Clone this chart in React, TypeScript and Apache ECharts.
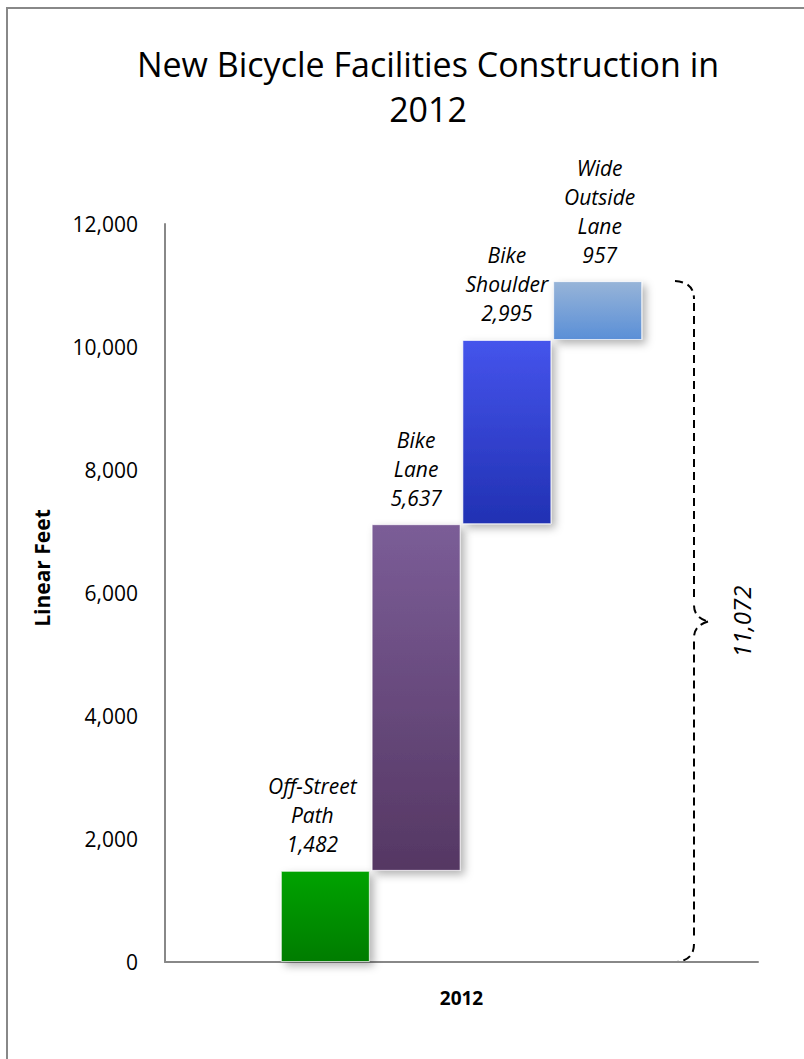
import React, { useEffect, useRef } from "react";
import * as echarts from "echarts";

// Facility types built in 2012 and their lengths (linear feet)
const categories = ["2012"];
const facilityNames = ["Off-Street\nPath", "Bike\nLane", "Bike\nShoulder", "Wide\nOutside\nLane"];
const facilityFeet = [1482, 5637, 2995, 957];
const totalFeet = 11072;
const totalLabel = "11,072";
const yTicks = [0, 2000, 4000, 6000, 8000, 10000, 12000];

// top / bottom gradient stops for each facility bar
const barColors = [
  ["#00a300", "#007c00"],
  ["#7b5d97", "#553763"],
  ["#4554ec", "#2131b3"],
  ["#97b4d8", "#5a8fd7"],
];
// horizontal nudge of each bar's label
const labelShift = [-13, 0, 0, 2];

const fmt = (v: number) => v.toLocaleString("en-US");
const FONT = "'Open Sans', 'Noto Sans', sans-serif";

export default function App() {
  const ref = useRef<HTMLDivElement>(null);

  useEffect(() => {
    if (!ref.current) return;
    const chart = echarts.init(ref.current, undefined, { renderer: "svg" });

    // running base of each floating bar
    const bases: number[] = [];
    let acc = 0;
    facilityFeet.forEach((v) => {
      bases.push(acc);
      acc += v;
    });

    const series: any[] = [];
    facilityFeet.forEach((v, i) => {
      series.push({
        type: "bar",
        stack: "s" + i,
        data: [bases[i]],
        barWidth: 89,
        barGap: "2%",
        itemStyle: { color: "transparent" },
        silent: true,
      });
      series.push({
        type: "bar",
        stack: "s" + i,
        data: [v],
        barWidth: 89,
        barGap: "2%",
        itemStyle: {
          color: new echarts.graphic.LinearGradient(0, 0, 0, 1, [
            { offset: 0, color: barColors[i][0] },
            { offset: 1, color: barColors[i][1] },
          ]),
          borderColor: "rgba(255,255,255,0.65)",
          borderWidth: 1,
          shadowBlur: 8,
          shadowOffsetX: 4,
          shadowOffsetY: 4,
          shadowColor: "rgba(0,0,0,0.3)",
        },
        label: {
          show: true,
          position: "top",
          distance: 12,
          offset: [labelShift[i], 0],
          formatter: () => facilityNames[i] + "\n" + fmt(v),
          fontFamily: FONT,
          fontStyle: "italic",
          fontSize: 21,
          lineHeight: 29,
          color: "#000",
        },
      });
    });

    const option: any = {
      animation: false,
      grid: { left: 165, right: 46, top: 224, bottom: 97 },
      xAxis: {
        type: "category",
        data: categories,
        axisLine: { lineStyle: { color: "#888", width: 2 } },
        axisTick: { show: false },
        axisLabel: {
          margin: 26,
          fontFamily: FONT,
          fontWeight: "bold",
          fontSize: 19,
          color: "#000",
        },
      },
      yAxis: {
        type: "value",
        min: yTicks[0],
        max: yTicks[yTicks.length - 1],
        interval: 2000,
        axisLine: { show: true, lineStyle: { color: "#888", width: 2 } },
        axisTick: { show: false },
        splitLine: { show: false },
        axisLabel: {
          margin: 27,
          fontFamily: FONT,
          fontSize: 21,
          color: "#000",
          formatter: (v: number) => fmt(v),
        },
      },
      series,
    };
    chart.setOption(option);

    // dashed brace spanning the total
    const yTop = chart.convertToPixel({ yAxisIndex: 0 }, totalFeet) as number;
    const yBot = chart.convertToPixel({ yAxisIndex: 0 }, 0) as number;
    const yMid = (yTop + yBot) / 2;
    const xs = 675;
    const xv = 694;
    const xt = 708;
    const dash = { stroke: "#000", lineWidth: 2, lineDash: [8, 5], fill: "none" };
    const graphic: any[] = [
      {
        type: "rect",
        shape: { x: 7, y: 8, width: 1000, height: 1200 },
        style: { fill: "none", stroke: "#888", lineWidth: 2 },
        silent: true,
      },
      {
        type: "text",
        x: 428,
        y: 41,
        style: {
          text: "New Bicycle Facilities Construction in\n2012",
          fontFamily: FONT,
          fontSize: 34,
          lineHeight: 45,
          fill: "#000",
          textAlign: "center",
          textVerticalAlign: "top",
        },
      },
      {
        type: "text",
        x: 42,
        y: 568,
        rotation: Math.PI / 2,
        style: {
          text: "Linear Feet",
          fontFamily: FONT,
          fontWeight: "bold",
          fontSize: 21,
          fill: "#000",
          textAlign: "center",
          textVerticalAlign: "middle",
        },
      },
      {
        type: "bezierCurve",
        shape: { x1: xs, y1: yTop, cpx1: xv, cpy1: yTop + 1, x2: xv, y2: yTop + 18 },
        style: dash,
      },
      { type: "line", shape: { x1: xv, y1: yTop + 22, x2: xv, y2: yMid - 20 }, style: dash },
      {
        type: "bezierCurve",
        shape: { x1: xv, y1: yMid - 16, cpx1: xv, cpy1: yMid - 4, x2: xt, y2: yMid },
        style: dash,
      },
      {
        type: "bezierCurve",
        shape: { x1: xt, y1: yMid, cpx1: xv, cpy1: yMid + 4, x2: xv, y2: yMid + 16 },
        style: dash,
      },
      { type: "line", shape: { x1: xv, y1: yMid + 20, x2: xv, y2: yBot - 22 }, style: dash },
      {
        type: "bezierCurve",
        shape: { x1: xv, y1: yBot - 18, cpx1: xv, cpy1: yBot - 1, x2: xs, y2: yBot },
        style: dash,
      },
      {
        type: "text",
        x: 741,
        y: yMid,
        rotation: Math.PI / 2,
        style: {
          text: totalLabel,
          fontFamily: FONT,
          fontStyle: "italic",
          fontSize: 24,
          fill: "#000",
          textAlign: "center",
          textVerticalAlign: "middle",
        },
      },
    ];
    chart.setOption({ graphic });

    return () => chart.dispose();
  }, []);

  return (
    <div
      ref={ref}
      style={{ position: "fixed", left: 0, top: 0, width: 804, height: 1059, background: "#fff" }}
    />
  );
}
